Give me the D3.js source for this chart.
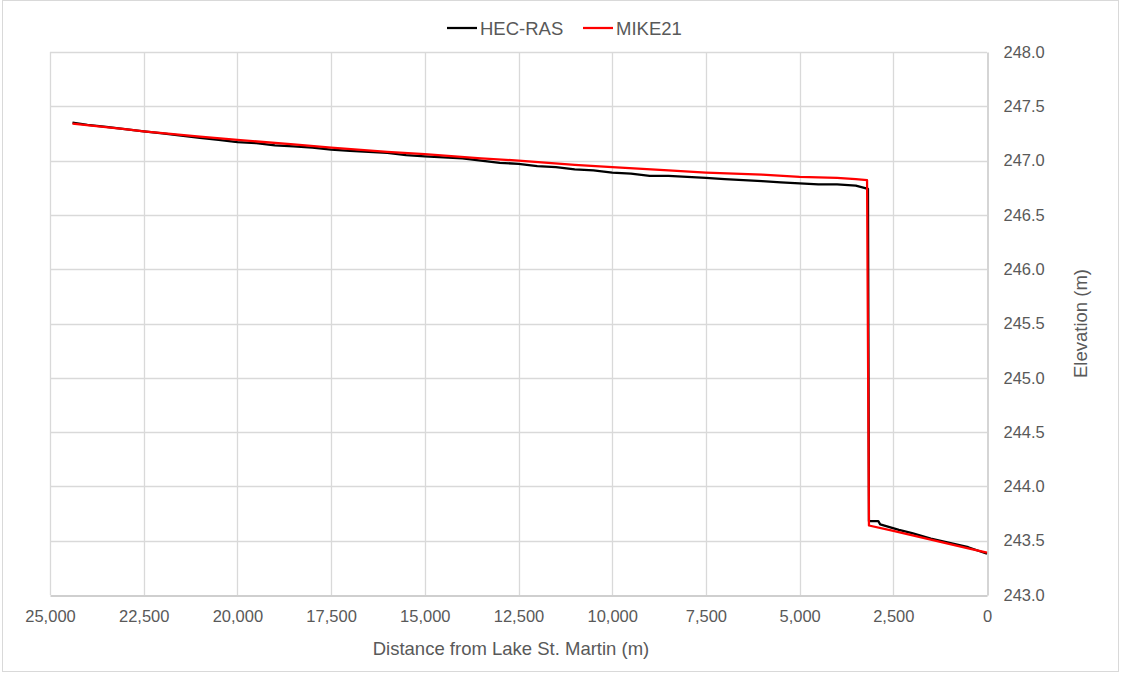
<!DOCTYPE html>
<html>
<head>
<meta charset="utf-8">
<script src="https://cdn.jsdelivr.net/npm/d3@7"></script>
<style>
  body { margin: 0; background: #fff; }
  text { font-family: "Liberation Sans", Arial, sans-serif; fill: #595959; }
</style>
</head>
<body>
<svg id="chart" width="1121" height="673"></svg>
<script>
// distance from Lake St. Martin (m) and water surface elevation (m)
var hecDist = [24400, 24000, 23500, 23000, 22500, 22000, 21500, 21000, 20500, 20000,
  19500, 19000, 18500, 18000, 17500, 17000, 16500, 16000, 15500, 15000,
  14500, 14000, 13500, 13000, 12500, 12000, 11500, 11000, 10500, 10000,
  9500, 9000, 8500, 8000, 7500, 7000, 6500, 6000, 5500, 5000,
  4500, 4000, 3500, 3175, 3150, 2900, 2850, 2350, 2000, 1500, 1000, 500, 0];
var hecElev = [247.35, 247.33, 247.31, 247.29, 247.27, 247.25, 247.23, 247.21, 247.19, 247.17,
  247.16, 247.14, 247.13, 247.12, 247.10, 247.09, 247.08, 247.07, 247.05, 247.04,
  247.03, 247.02, 247.00, 246.98, 246.97, 246.95, 246.94, 246.92, 246.91, 246.89,
  246.88, 246.86, 246.86, 246.85, 246.84, 246.83, 246.82, 246.81, 246.80, 246.79,
  246.78, 246.78, 246.77, 246.74, 243.68, 243.68, 243.65, 243.60, 243.57, 243.52, 243.48, 243.44, 243.38];

var mikeDist = [24400, 23000, 22500, 21000, 20000, 18500, 17500, 16000, 15000, 13500,
  12500, 11000, 10000, 8500, 7500, 6000, 5000, 4000, 3500, 3200, 3150, 2500, 1500, 500, 0];
var mikeElev = [247.34, 247.29, 247.27, 247.22, 247.19, 247.15, 247.12, 247.08, 247.06, 247.02,
  247.00, 246.96, 246.94, 246.91, 246.89, 246.87, 246.85, 246.84, 246.83, 246.82, 243.64, 243.59, 243.51, 243.43, 243.39];

var xTicks = [25000, 22500, 20000, 17500, 15000, 12500, 10000, 7500, 5000, 2500, 0];
var yTicks = [243.0, 243.5, 244.0, 244.5, 245.0, 245.5, 246.0, 246.5, 247.0, 247.5, 248.0];

var series = [
  {name: "HEC-RAS", color: "#000000", x: hecDist, y: hecElev},
  {name: "MIKE21", color: "#ff0000", x: mikeDist, y: mikeElev}
];

var svg = d3.select("#chart");

svg.append("rect")
    .attr("x", 2.5).attr("y", 0.5)
    .attr("width", 1116).attr("height", 671)
    .attr("fill", "#fff")
    .attr("stroke", "#d9d9d9");

var plotLeft = 50, plotRight = 987, plotTop = 52, plotBottom = 595;

var x = d3.scaleLinear().domain([25000, 0]).range([plotLeft, plotRight]);
var y = d3.scaleLinear().domain([243, 248]).range([plotBottom, plotTop]);

// gridlines
svg.append("g").selectAll("line")
    .data(xTicks.filter(function(d) { return d !== 0; }))
  .enter().append("line")
    .attr("x1", function(d) { return Math.round(x(d)) + 0.5; })
    .attr("x2", function(d) { return Math.round(x(d)) + 0.5; })
    .attr("y1", plotTop).attr("y2", plotBottom)
    .attr("stroke", "#d9d9d9").attr("stroke-width", 1.3);

svg.append("g").selectAll("line")
    .data(yTicks.filter(function(d) { return d !== 243; }))
  .enter().append("line")
    .attr("x1", plotLeft).attr("x2", plotRight)
    .attr("y1", function(d) { return Math.round(y(d)) + 0.5; })
    .attr("y2", function(d) { return Math.round(y(d)) + 0.5; })
    .attr("stroke", "#d9d9d9").attr("stroke-width", 1.3);

// x axis
var xAxis = svg.append("g")
    .attr("transform", "translate(0," + (plotBottom + 0.5) + ")")
    .call(d3.axisBottom(x).tickValues(xTicks).tickSize(0).tickPadding(15)
      .tickFormat(d3.format(",")));
xAxis.select(".domain").attr("stroke", "#bfbfbf").attr("stroke-width", 1.3);
xAxis.selectAll("text").attr("font-size", "16.5px").attr("fill", "#595959")
    .attr("font-family", "Liberation Sans, Arial, sans-serif");

// y axis on the right
var yAxis = svg.append("g")
    .attr("transform", "translate(" + (plotRight + 0.5) + ",0)")
    .call(d3.axisRight(y).tickValues(yTicks).tickSize(0).tickPadding(16)
      .tickFormat(d3.format(".1f")));
yAxis.select(".domain").attr("stroke", "#bfbfbf").attr("stroke-width", 1.3);
yAxis.selectAll("text").attr("font-size", "16.5px").attr("fill", "#595959")
    .attr("font-family", "Liberation Sans, Arial, sans-serif");

// series
var line = d3.line()
    .x(function(d) { return x(d[0]); })
    .y(function(d) { return y(d[1]); });

series.forEach(function(s) {
  svg.append("path")
      .datum(d3.zip(s.x, s.y))
      .attr("fill", "none")
      .attr("stroke", s.color)
      .attr("stroke-width", 2.25)
      .attr("stroke-linejoin", "round")
      .attr("d", line);
});

// axis titles
svg.append("text")
    .attr("x", 511).attr("y", 655)
    .attr("text-anchor", "middle")
    .attr("font-size", "18.5px")
    .text("Distance from Lake St. Martin (m)");

svg.append("text")
    .attr("transform", "translate(1087," + (plotTop + plotBottom) / 2 + ") rotate(-90)")
    .attr("text-anchor", "middle")
    .attr("font-size", "18.5px")
    .text("Elevation (m)");

// legend
var legend = svg.append("g");
var legendX = [447, 583];
series.forEach(function(s, i) {
  legend.append("line")
      .attr("x1", legendX[i]).attr("x2", legendX[i] + 30)
      .attr("y1", 28).attr("y2", 28)
      .attr("stroke", s.color).attr("stroke-width", 2.25);
  legend.append("text")
      .attr("x", legendX[i] + 33).attr("y", 34.5)
      .attr("font-size", "18.5px")
      .text(s.name);
});
</script>
</body>
</html>
